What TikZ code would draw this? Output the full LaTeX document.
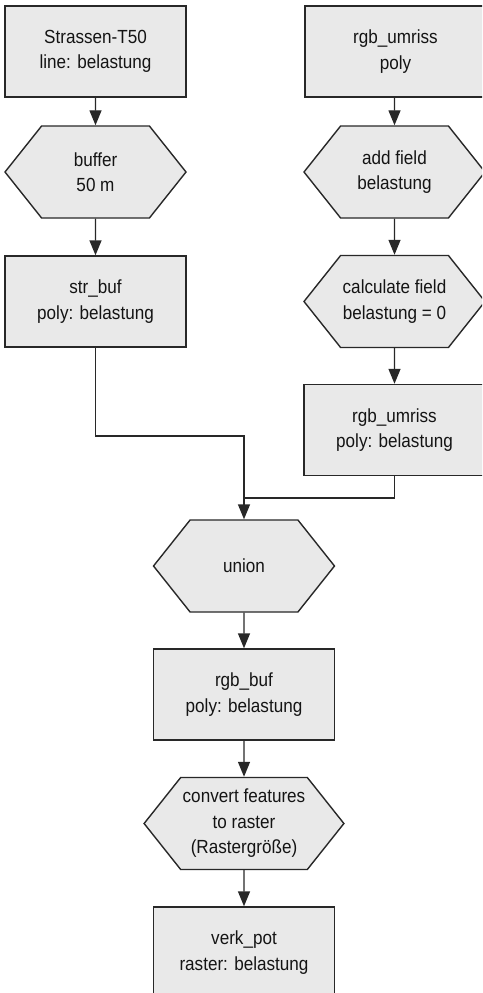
\documentclass[tikz,border=0pt]{standalone}
\usepackage{fontspec}
\setmainfont[FakeStretch=0.9]{Liberation Sans}
\usetikzlibrary{shapes.symbols,arrows.meta}
\definecolor{boxfill}{RGB}{233,233,233}
\definecolor{edge}{RGB}{40,40,40}
\tikzset{
  base/.style={draw=edge, line width=1.4pt, fill=boxfill, align=center,
    font=\fontsize{19}{25.5}\selectfont, text=black!92, inner sep=2pt},
  databox/.style={base, rectangle, minimum width=181pt, minimum height=91pt},
  toolhex/.style={base, signal, signal to=west and east, signal pointer angle=103,
    minimum width=181pt, minimum height=92pt},
  arr/.style={draw=edge, line width=1.4pt, -{Triangle[width=12pt,length=15pt]}},
  link/.style={draw=edge, line width=1.4pt}
}
\begin{document}
\begin{tikzpicture}[x=1pt,y=-1pt]
\useasboundingbox (0,0) rectangle (482,993);
\clip (0,0) rectangle (482,993);
% left branch
\node[databox] (strassen) at (95.5,51.5) {Strassen-T50\\line: belastung};
\node[toolhex] (buffer) at (95.5,172) {buffer\\50 m};
\node[databox] (strbuf) at (95.5,301.5) {str\_buf\\poly: belastung};
% right branch
\node[databox] (umriss) at (395.5,51.5) {rgb\_umriss\\poly};
\node[toolhex] (addfield) at (394.5,172) {add field\\belastung};
\node[toolhex] (calcfield) at (394.5,301.5) {calculate field\\belastung = 0};
\node[databox] (umrissbel) at (394.5,430) {rgb\_umriss\\poly: belastung};
% merged chain
\node[toolhex] (union) at (244,566) {union};
\node[databox] (rgbbuf) at (244,694.5) {rgb\_buf\\poly: belastung};
\node[toolhex] (convert) at (244,823.5) {convert features\\to raster\\(Rastergröße)};
\node[databox] (verkpot) at (244,952.5) {verk\_pot\\raster: belastung};
% junction levels
\coordinate (lvlA) at (0,436);
\coordinate (lvlB) at (0,498);
% connectors
\draw[arr] (strassen) -- (buffer);
\draw[arr] (buffer) -- (strbuf);
\draw[arr] (umriss.south -| addfield.north) -- (addfield);
\draw[arr] (addfield) -- (calcfield);
\draw[arr] (calcfield) -- (umrissbel);
\draw[arr] (strbuf.south) |- (union.north |- lvlA) -- (union.north);
\draw[link] (umrissbel.south) |- (union.north |- lvlB);
\draw[arr] (union) -- (rgbbuf);
\draw[arr] (rgbbuf) -- (convert);
\draw[arr] (convert) -- (verkpot);
\end{tikzpicture}
\end{document}
